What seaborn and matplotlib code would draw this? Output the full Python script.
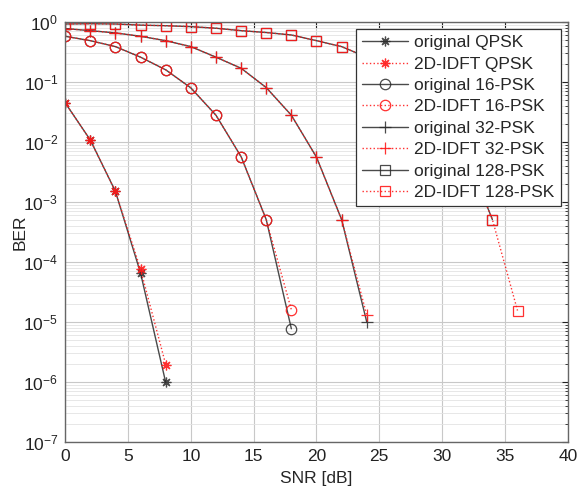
import numpy as np
import pandas as pd
import matplotlib
matplotlib.use("Agg")
import matplotlib.pyplot as plt
import seaborn as sns
from matplotlib.ticker import LogLocator, NullFormatter, MultipleLocator, FixedLocator

sns.set_style("white")
plt.rcParams['font.family'] = ['Liberation Sans', 'DejaVu Sans']
plt.rcParams['mathtext.fontset'] = 'custom'
plt.rcParams['mathtext.rm'] = 'Liberation Sans'

# Data
snr_qpsk = [0, 2, 4, 6, 8]
ber_orig_qpsk = [0.045, 0.0108, 0.0015, 6.5e-5, 9.8e-7]
ber_idft_qpsk = [0.045, 0.0108, 0.0015, 7.5e-5, 1.95e-6]

snr_16 = [0, 2, 4, 6, 8, 10, 12, 14, 16, 18]
ber_orig_16 = [0.58, 0.49, 0.39, 0.26, 0.16, 0.08, 0.028, 0.0057, 5.1e-4, 7.7e-6]
ber_idft_16 = [0.58, 0.49, 0.39, 0.26, 0.16, 0.08, 0.028, 0.0057, 5.1e-4, 1.6e-5]

snr_32 = [0, 2, 4, 6, 8, 10, 12, 14, 16, 18, 20, 22, 24]
ber_orig_32 = [0.78, 0.72, 0.66, 0.58, 0.49, 0.39, 0.26, 0.17, 0.081, 0.028, 0.0056, 5.1e-4, 1.0e-5]
ber_idft_32 = [0.78, 0.72, 0.66, 0.58, 0.49, 0.39, 0.26, 0.17, 0.081, 0.028, 0.0056, 5.1e-4, 1.3e-5]

snr_128 = [0, 2, 4, 6, 8, 10, 12, 14, 16, 18, 20, 22, 24, 26, 28, 30, 32, 34, 36]
ber_orig_128 = [0.93, 0.94, 0.93, 0.89, 0.87, 0.84, 0.79, 0.72, 0.67, 0.61, 0.49, 0.39,
                0.26, 0.16, 0.08, 0.028, 0.0057, 5.1e-4, np.nan]
ber_idft_128 = [0.93, 0.94, 0.93, 0.89, 0.87, 0.84, 0.79, 0.72, 0.67, 0.61, 0.49, 0.39,
                0.26, 0.16, 0.08, 0.028, 0.0057, 5.1e-4, 1.55e-5]

labels = ["original QPSK", "2D-IDFT QPSK", "original 16-PSK", "2D-IDFT 16-PSK",
          "original 32-PSK", "2D-IDFT 32-PSK", "original 128-PSK", "2D-IDFT 128-PSK"]

y_ticks = [1e-7, 1e-6, 1e-5, 1e-4, 1e-3, 1e-2, 1e-1, 1]

ASTERISK = (8, 2, 0)
series = [
    (snr_qpsk, ber_orig_qpsk, ASTERISK), (snr_qpsk, ber_idft_qpsk, ASTERISK),
    (snr_16, ber_orig_16, 'o'), (snr_16, ber_idft_16, 'o'),
    (snr_32, ber_orig_32, '+'), (snr_32, ber_idft_32, '+'),
    (snr_128, ber_orig_128, 's'), (snr_128, ber_idft_128, 's'),
]
sizes = {'o': 7.5, 's': 6.5, '+': 8}

fig = plt.figure(figsize=(5.77, 4.91), dpi=100)
ax = fig.add_axes([0.113, 0.1, 0.871, 0.855])

red = '#ff1a1a'
for i, ((x, y, m), lab) in enumerate(zip(series, labels)):
    df = pd.DataFrame({'SNR': x, 'BER': y}).dropna()
    orig = (i % 2 == 0)
    color = '#2a2a2a' if orig else red
    ls = '-' if orig else ':'
    ms = sizes.get(m, 7) if isinstance(m, str) else 7
    sns.lineplot(data=df, x='SNR', y='BER', ax=ax, color=color, linestyle=ls,
                 linewidth=1.0, marker=m, markersize=ms, markerfacecolor='none',
                 markeredgecolor=color, markeredgewidth=0.9, label=lab,
                 alpha=0.85 if orig else 0.9)

ax.set_yscale('log')
ax.set_xlim(0, 40)
ax.set_ylim(1e-7, 1)
ax.xaxis.set_major_locator(MultipleLocator(5))
ax.yaxis.set_major_locator(FixedLocator(y_ticks))
ax.yaxis.set_minor_locator(LogLocator(base=10, subs=np.arange(2, 10), numticks=20))
ax.yaxis.set_minor_formatter(NullFormatter())
ax.grid(True, which='major', color='#c8c8c8', linewidth=0.8)
ax.grid(True, which='minor', axis='y', color='#e3e3e3', linewidth=0.6)
ax.tick_params(which='both', direction='in', top=True, right=True, labelsize=12.5,
               colors='#222222')
ax.tick_params(which='major', length=4, pad=5)
ax.tick_params(which='minor', length=2)
for s in ax.spines.values():
    s.set_color('#666666')
    s.set_linewidth(1.0)
ax.set_xlabel('SNR [dB]', fontsize=12.5, labelpad=5)
ax.set_ylabel('BER', fontsize=12.5, labelpad=-3)

leg = ax.legend(loc='upper right', fontsize=12.5, frameon=True, fancybox=False,
                edgecolor='#333333', framealpha=1, borderpad=0.35, labelspacing=0.36,
                handlelength=2.6, handletextpad=0.4, borderaxespad=0.4)
leg.get_frame().set_linewidth(0.9)

fig.savefig('out.png', dpi=100)
